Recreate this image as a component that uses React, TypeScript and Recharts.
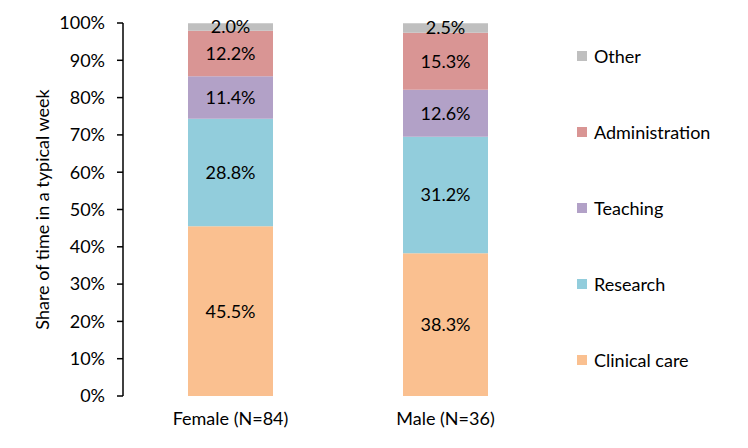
import React from 'react'
import { BarChart, Bar, XAxis, YAxis, Legend, LabelList } from 'recharts'

const groups = ['Female (N=84)', 'Male (N=36)']
const clinicalCare = [45.5, 38.3]
const research = [28.8, 31.2]
const teaching = [11.4, 12.6]
const administration = [12.2, 15.3]
const other = [2.0, 2.5]
const yTicks = [0, 10, 20, 30, 40, 50, 60, 70, 80, 90, 100]

const series = [
  { key: 'clinical', name: 'Clinical care', color: '#FAC090', values: clinicalCare },
  { key: 'research', name: 'Research', color: '#92CDDC', values: research },
  { key: 'teaching', name: 'Teaching', color: '#B2A1C7', values: teaching },
  { key: 'admin', name: 'Administration', color: '#D99594', values: administration },
  { key: 'other', name: 'Other', color: '#BFBFBF', values: other },
]

const data = groups.map((g, i) => {
  const row: any = { group: g }
  series.forEach((s) => { row[s.key] = s.values[i] })
  return row
})

const font = 'Lato, "Open Sans", sans-serif'
const fs = 18

const LegendBox = () => (
  <div style={{ fontFamily: font, fontSize: fs, color: '#000' }}>
    {[...series].reverse().map((s) => (
      <div key={s.key} style={{ display: 'flex', alignItems: 'center', height: 76 }}>
        <span style={{ width: 10, height: 10, background: s.color, display: 'inline-block', marginRight: 7 }} />
        <span>{s.name}</span>
      </div>
    ))}
  </div>
)

const YLabel = ({ viewBox }: any) => {
  const cx = 42
  const cy = viewBox.y + viewBox.height / 2
  return (
    <text x={cx} y={cy} transform={`rotate(-90 ${cx} ${cy})`} textAnchor="middle"
      dominantBaseline="central" fontSize={fs} fill="#000" fontFamily={font}>
      Share of time in a typical week
    </text>
  )
}

export default function App() {
  return (
    <div style={{ position: 'absolute', left: 0, top: 0, width: 748, height: 448, background: '#fff' }}>
      <BarChart width={748} height={448} data={data} barCategoryGap={0}
        margin={{ top: 23, right: 25, bottom: 22, left: 0 }}>
        <XAxis dataKey="group" axisLine={false} tickLine={false} height={30}
          tick={{ fontSize: fs, fill: '#000', fontFamily: font }} tickMargin={10} />
        <YAxis type="number" domain={[0, 100]} ticks={yTicks} width={123}
          tickFormatter={(v: number) => `${v}%`} interval={0}
          axisLine={{ stroke: '#000', strokeWidth: 1.5 }} tickLine={{ stroke: '#000', strokeWidth: 1.5 }}
          tickSize={6} tickMargin={12}
          tick={{ fontSize: fs, fill: '#000', fontFamily: font }}
          label={<YLabel />} />
        <Legend layout="vertical" align="right" verticalAlign="top" content={<LegendBox />}
          wrapperStyle={{ position: 'absolute', left: 577, top: 18, width: 170 }} />
        {series.map((s) => (
          <Bar key={s.key} dataKey={s.key} name={s.name} stackId="a" fill={s.color}
            barSize={85} isAnimationActive={false}>
            <LabelList dataKey={s.key} position="center"
              formatter={(v: any) => `${Number(v).toFixed(1)}%`}
              style={{ fontSize: fs, fill: '#000', fontFamily: font }} />
          </Bar>
        ))}
      </BarChart>
    </div>
  )
}
